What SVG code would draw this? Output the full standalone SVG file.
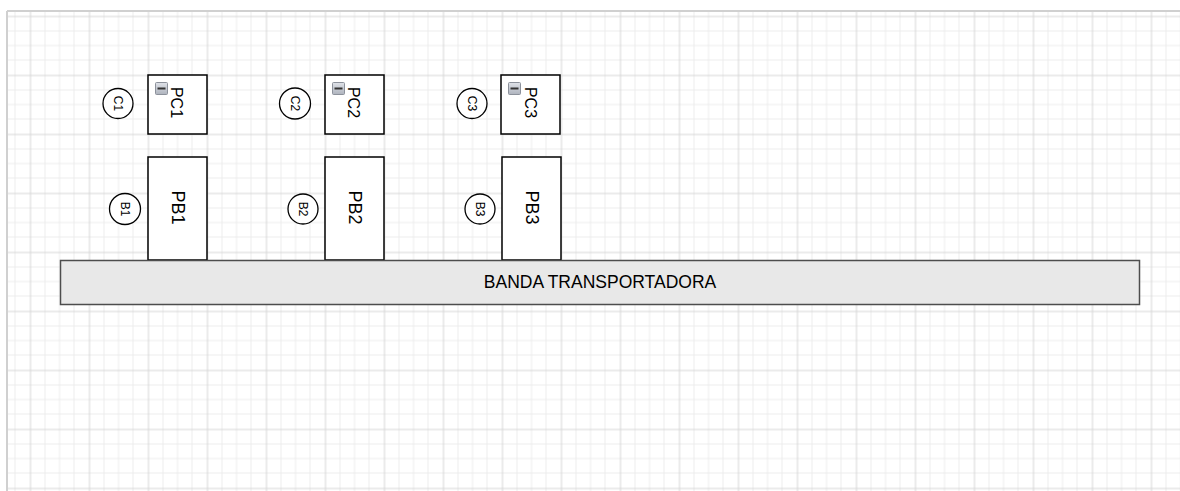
<svg xmlns="http://www.w3.org/2000/svg" width="1180" height="491" viewBox="0 0 1180 491">
  <defs>
    <pattern id="grid" x="29.5" y="15.5" width="59" height="59" patternUnits="userSpaceOnUse">
      <path d="M15.5 0V59M30 0V59M44.5 0V59M0 15.5H59M0 30H59M0 44.5H59" stroke="#ececec" stroke-width="1" fill="none"/>
      <path d="M1 0V59M0 1H59" stroke="#d6d6d6" stroke-width="1" fill="none"/>
    </pattern>
    <linearGradient id="iconGrad" x1="0" y1="0" x2="0" y2="1">
      <stop offset="0" stop-color="#dfe2e8"/>
      <stop offset="1" stop-color="#aeb3bd"/>
    </linearGradient>
    <g id="minus">
      <rect x="0.5" y="0.5" width="12" height="12" rx="1" fill="url(#iconGrad)" stroke="#8c919b" stroke-width="1"/>
      <rect x="2.5" y="5.5" width="8" height="2" fill="#333"/>
    </g>
  </defs>
  <style>
    .box { fill: #ffffff; stroke: #000000; stroke-width: 1.5; }
    .circ { fill: #ffffff; stroke: #000000; stroke-width: 1.3; }
    .belt { fill: #e8e8e8; stroke: #4d4d4d; stroke-width: 1.5; }
    .lbl { font-family: "Liberation Sans", Arial, sans-serif; fill: #000000; text-anchor: middle; dominant-baseline: central; }
    .small { font-size: 12px; }
    .pc { font-size: 16px; }
    .pb { font-size: 18px; }
    .belttext { font-size: 17.5px; }
  </style>
  <rect x="0" y="0" width="1180" height="491" fill="#ffffff"/>
  <rect x="7" y="11" width="1173" height="480" fill="url(#grid)"/>
  <path d="M7 11H1180M7 11V491" stroke="#d0d0d0" stroke-width="2" fill="none"/>

  <g id="connectors"></g>

  <g id="C1">
    <circle class="circ" cx="118" cy="103.5" r="15"/>
    <text class="lbl small" transform="translate(118,103.5) rotate(90)">C1</text>
  </g>
  <g id="PC1">
    <rect class="box" x="148" y="75" width="59" height="59"/>
    <use href="#minus" x="155" y="82"/>
    <text class="lbl pc" transform="translate(176.5,102.5) rotate(90)">PC1</text>
  </g>
  <g id="B1">
    <circle class="circ" cx="125" cy="209" r="15.5"/>
    <text class="lbl small" transform="translate(125,209) rotate(90)">B1</text>
  </g>
  <g id="PB1">
    <rect class="box" x="148" y="157" width="59" height="103"/>
    <text class="lbl pb" transform="translate(177.5,207.5) rotate(90)">PB1</text>
  </g>

  <g id="C2">
    <circle class="circ" cx="295" cy="103.5" r="15.5"/>
    <text class="lbl small" transform="translate(295,103.5) rotate(90)">C2</text>
  </g>
  <g id="PC2">
    <rect class="box" x="325" y="75" width="59" height="59"/>
    <use href="#minus" x="332" y="82"/>
    <text class="lbl pc" transform="translate(353.5,102.5) rotate(90)">PC2</text>
  </g>
  <g id="B2">
    <circle class="circ" cx="303" cy="209" r="15"/>
    <text class="lbl small" transform="translate(303,209) rotate(90)">B2</text>
  </g>
  <g id="PB2">
    <rect class="box" x="325" y="157" width="59" height="103"/>
    <text class="lbl pb" transform="translate(354.5,207.5) rotate(90)">PB2</text>
  </g>

  <g id="C3">
    <circle class="circ" cx="472" cy="103.5" r="15"/>
    <text class="lbl small" transform="translate(472,103.5) rotate(90)">C3</text>
  </g>
  <g id="PC3">
    <rect class="box" x="501" y="75" width="59" height="59"/>
    <use href="#minus" x="508" y="82"/>
    <text class="lbl pc" transform="translate(530,102.5) rotate(90)">PC3</text>
  </g>
  <g id="B3">
    <circle class="circ" cx="480" cy="209" r="15"/>
    <text class="lbl small" transform="translate(480,209) rotate(90)">B3</text>
  </g>
  <g id="PB3">
    <rect class="box" x="502" y="157" width="59" height="103"/>
    <text class="lbl pb" transform="translate(531.5,207.5) rotate(90)">PB3</text>
  </g>

  <g id="BANDA">
    <rect class="belt" x="60.5" y="260.5" width="1079" height="44"/>
    <text class="lbl belttext" x="600" y="282">BANDA TRANSPORTADORA</text>
  </g>
</svg>
